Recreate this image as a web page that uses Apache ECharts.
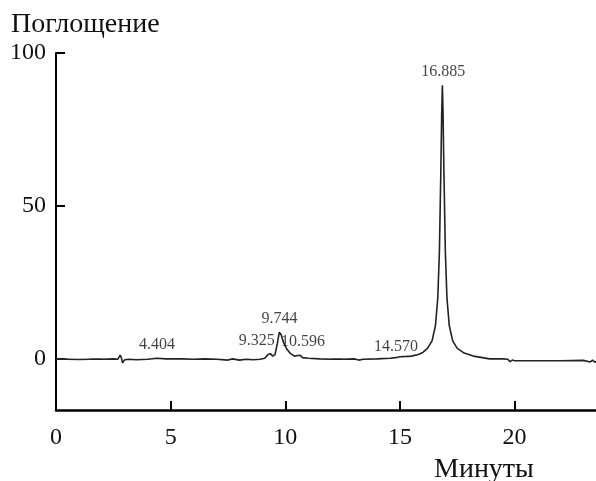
<!DOCTYPE html>
<html>
<head>
<meta charset="utf-8">
<script src="https://cdn.jsdelivr.net/npm/echarts@6/dist/echarts.min.js"></script>
<style>
    html, body { margin: 0; padding: 0; background: #fff; }
    #chart { width: 596px; height: 481px; }
</style>
</head>
<body>
<div id="chart"></div>
<script type="text/javascript">
    // хроматограмма: время (мин) и поглощение
    var times = [0, 0.5, 1.0, 1.5, 2.0, 2.5, 2.7, 2.8, 2.85, 2.9, 3.0, 3.2, 3.5, 4.0, 4.4, 4.8, 5.5, 6.0, 6.5, 7.0, 7.5, 7.7, 8.0, 8.3, 8.6, 8.9,
        9.1, 9.25, 9.35, 9.45, 9.55, 9.65, 9.74, 9.82, 9.92, 10.05, 10.2, 10.4, 10.55, 10.65, 10.75, 11.0, 11.5, 12.0, 12.5, 13.0, 13.2, 13.4,
        14.0, 14.57, 14.9, 15.0, 15.3, 15.5, 15.8, 16.0, 16.2, 16.4, 16.55, 16.65, 16.72, 16.78, 16.82, 16.85, 16.88, 16.92, 16.98, 17.05,
        17.15, 17.3, 17.5, 17.8, 18.2, 18.6, 18.9, 19.5, 19.7, 19.8, 19.9, 20.0, 21.0, 22.0, 23.0, 23.3, 23.4, 23.5, 23.6];
    var absorbance = [0, 0, -0.1, 0, 0, 0.1, 0, 1.3, 0.5, -1.2, -0.2, 0, -0.2, 0, 0.3, 0.1, 0.1, 0, 0.1, 0, -0.3, 0.1, -0.3, 0, -0.2, 0,
        0.3, 1.5, 1.8, 1.0, 1.5, 5, 8.8, 8, 5.5, 3.5, 2, 1, 1.2, 1.3, 0.5, 0.3, 0.1, 0, 0, 0.1, -0.3, 0,
        0.1, 0.3, 0.6, 0.8, 0.9, 1.0, 1.5, 2.2, 3.5, 6, 11, 20, 35, 60, 80, 89.5, 80, 60, 35, 20,
        11, 6, 3.5, 2, 1, 0.5, 0.1, 0.1, 0, -0.8, -0.3, -0.5, -0.5, -0.5, -0.4, -0.9, -0.3, -1.0, -0.6];

    // подписи пиков
    var peakLabels = ['4.404', '9.325', '9.744', '10.596', '14.570', '16.885'];
    var peakTimes = [4.404, 9.325, 9.744, 10.596, 14.570, 16.885];
    var peakHeights = [0.3, 1.8, 8.8, 1.3, 0.6, 89.5];

    var xTicks = [0, 5, 10, 15, 20];
    var yTicks = [0, 50, 100];

    var serif = 'Liberation Serif';

    var trace = [];
    for (var i = 0; i < times.length; i++) {
        trace.push([times[i], absorbance[i]]);
    }
    var peaks = [];
    for (var j = 0; j < peakTimes.length; j++) {
        var item = { value: [peakTimes[j], peakHeights[j]], name: peakLabels[j] };
        if (peakLabels[j] === '9.325') item.label = { offset: [-13, 0] };
        if (peakLabels[j] === '14.570') item.label = { offset: [6, 2] };
        if (peakLabels[j] === '10.596') item.label = { offset: [4, 0] };
        peaks.push(item);
    }

    var myChart = echarts.init(document.getElementById('chart'));
    var option = {
        animation: false,
        title: [
            { text: 'Поглощение', left: 6, top: 6, textStyle: { fontFamily: serif, fontSize: 28, fontWeight: 'normal', color: '#111' } },
            { text: 'Минуты', left: 429, top: 451, textStyle: { fontFamily: serif, fontSize: 28, fontWeight: 'normal', color: '#111' } }
        ],
        grid: { left: 56, right: 0, top: 53, bottom: 71 },
        xAxis: {
            type: 'value',
            min: 0,
            max: 23.55,
            axisLine: { onZero: false, lineStyle: { color: '#000', width: 2.5 } },
            axisTick: { inside: true, length: 9, customValues: xTicks, lineStyle: { color: '#000', width: 2 } },
            axisLabel: { customValues: xTicks, margin: 16, fontFamily: serif, fontSize: 24, color: '#111' },
            splitLine: { show: false }
        },
        yAxis: {
            type: 'value',
            min: -16.6,
            max: 100,
            axisLine: { show: true, onZero: false, lineStyle: { color: '#000', width: 2 } },
            axisTick: { show: true, inside: true, length: 9, customValues: yTicks, lineStyle: { color: '#000', width: 2 } },
            axisLabel: { customValues: yTicks, margin: 10, fontFamily: serif, fontSize: 24, color: '#111' },
            splitLine: { show: false }
        },
        series: [
            {
                type: 'line',
                data: trace,
                symbol: 'none',
                lineStyle: { color: '#222', width: 1.6 }
            },
            {
                type: 'scatter',
                data: peaks,
                symbolSize: 0,
                label: {
                    show: true,
                    position: 'top',
                    distance: 5,
                    formatter: '{b}',
                    fontFamily: serif,
                    fontSize: 16,
                    color: '#111'
                }
            }
        ]
    };
    myChart.setOption(option, true);
</script>
</body>
</html>
